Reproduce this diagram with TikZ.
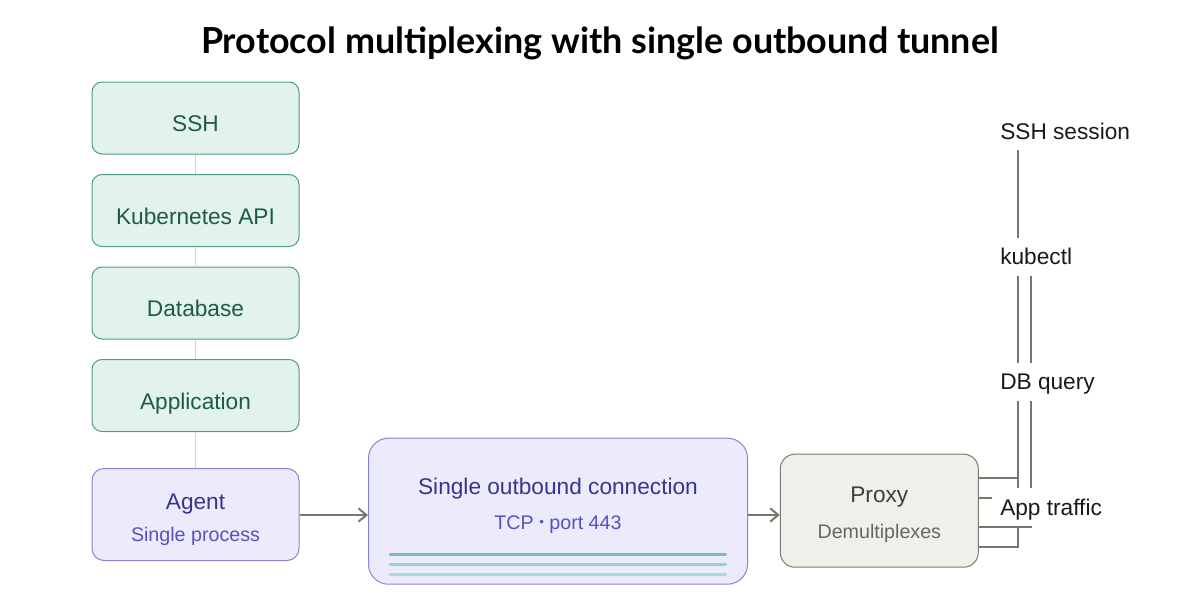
\documentclass[tikz,border=0pt]{standalone}
\usepackage{fontspec}
\setmainfont{Liberation Sans}
\newfontfamily\titlefont{Lato}
\usetikzlibrary{arrows.meta,calc,backgrounds}
\definecolor{gfill}{HTML}{E1F3EC}
\definecolor{gdraw}{HTML}{4F9C80}
\definecolor{gtext}{HTML}{1F5A44}
\definecolor{pfill}{HTML}{ECEBFB}
\definecolor{pdraw}{HTML}{8A83D6}
\definecolor{ptext}{HTML}{3B3390}
\definecolor{psub}{HTML}{5A4FC0}
\definecolor{xfill}{HTML}{F1EFE9}
\definecolor{xdraw}{HTML}{7D7A72}
\definecolor{xtext}{HTML}{3E3E3E}
\definecolor{xsub}{HTML}{666666}
\definecolor{conn}{HTML}{77766F}
\definecolor{thin}{HTML}{D4D4D4}
\definecolor{t1}{HTML}{7BBFB3}
\definecolor{t2}{HTML}{9ED0C8}
\definecolor{t3}{HTML}{ACD9D6}
\tikzset{
  gbox/.style={draw=gdraw,fill=gfill,line width=0.75pt,rounded corners=7.5pt,minimum width=155.25pt,minimum height=54pt,inner sep=0pt},
  maintxt/.style={font=\fontsize{17pt}{19pt}\selectfont,inner sep=0pt,anchor=base},
  subtxt/.style={font=\fontsize{14.75pt}{16pt}\selectfont,inner sep=0pt,anchor=base},
  pbox/.style={draw=pdraw,fill=pfill,line width=0.75pt,rounded corners=9pt,inner sep=0pt},
  xbox/.style={draw=xdraw,fill=xfill,line width=0.75pt,rounded corners=11pt,inner sep=0pt},
  lbl/.style={fill=white,anchor=west,minimum height=28.5pt,inner xsep=6pt,inner ysep=0pt,text height=12.2pt,text depth=0pt,font=\fontsize{17pt}{19pt}\selectfont,text=black!90},
  cline/.style={draw=conn,line width=1.5pt},
  arr/.style={draw=conn,line width=1.5pt,-{Straight Barb[length=6pt,width=10pt]}},
  vthin/.style={draw=thin,line width=0.75pt},
}
\begin{document}
\begin{tikzpicture}[x=0.75pt,y=-0.75pt]
\useasboundingbox (0,0) rectangle (1200,600);
\node[font=\titlefont\bfseries\fontsize{26.9pt}{30pt}\selectfont,inner sep=0pt,anchor=base] (title) at (600,53.3) {Protocol multiplexing with single outbound tunnel};
% left stack
\node[gbox] (ssh) at (195.5,118) {};
\node[gbox] (kapi) at (195.5,210.5) {};
\node[gbox] (db) at (195.5,303) {};
\node[gbox] (app) at (195.5,395.5) {};
\node[pbox,minimum width=155.25pt,minimum height=69pt] (agent) at (195.5,514.5) {};
\draw[vthin] (ssh.south) -- (kapi.north);
\draw[vthin] (kapi.south) -- (db.north);
\draw[vthin] (db.south) -- (app.north);
\draw[vthin] (app.south) -- (agent.north);
\node[maintxt,text=gtext] (sshT) at (195.5,131.7) {SSH};
\node[maintxt,text=gtext] (kapiT) at (195.5,224.2) {Kubernetes API};
\node[maintxt,text=gtext] (dbT) at (195.5,316.7) {Database};
\node[maintxt,text=gtext] (appT) at (195.5,409.2) {Application};
\node[maintxt,text=ptext] (agentT) at (195.5,509.5) {Agent};
\node[subtxt,text=psub] (agentS) at (195.5,541.7) {Single process};
% single outbound
\node[pbox,rounded corners=15pt,minimum width=284.25pt,minimum height=109.5pt] (single) at (558,511.2) {};
\node[maintxt,text=ptext] (singleT) at (558,494) {Single outbound connection};
\node[subtxt,text=psub] (singleS) at (558,529) {TCP \raisebox{1.7pt}{\fontsize{10pt}{10pt}\selectfont •} port 443};
\draw[t1,line width=2.25pt,line cap=round] (390,554.3) -- (725.7,554.3);
\draw[t2,line width=2.25pt,line cap=round] (390,564) -- (725.7,564);
\draw[t3,line width=2.25pt,line cap=round] (390,574) -- (725.7,574);
% proxy
\node[xbox,minimum width=148.5pt,minimum height=84.75pt] (proxy) at (879.3,510.7) {};
\node[maintxt,text=xtext] (proxyT) at (879.3,502.3) {Proxy};
\node[subtxt,text=xsub] (proxyS) at (879.3,538.3) {Demultiplexes};
% arrows
\draw[arr] (agent.east |- 0,515) -- (single.west |- 0,515);
\draw[arr] (single.east |- 0,515) -- (proxy.west |- 0,515);
% right labels
\node[lbl] (sshs) at (992,131) {SSH session};
\node[lbl] (kub) at (992,256.5) {kubectl};
\node[lbl] (dbq) at (992,381.5) {DB query};
\node[lbl] (appt) at (992,507) {App traffic};
\begin{scope}[on background layer]
\draw[cline] ($(proxy.east)+(0,-33)$) -| ($(sshs.south west)+(26,0)$);
\draw[cline] ($(proxy.east)+(0,16)$) -| ($(kub.south west)+(38.7,0)$);
\draw[cline] ($(proxy.east)+(0,36)$) -| ($(dbq.south west)+(26,0)$);
\draw[cline] ($(proxy.east)+(0,-13)$) -- (appt.west |- {$(proxy.east)+(0,-13)$});
\end{scope}
\end{tikzpicture}
\end{document}
